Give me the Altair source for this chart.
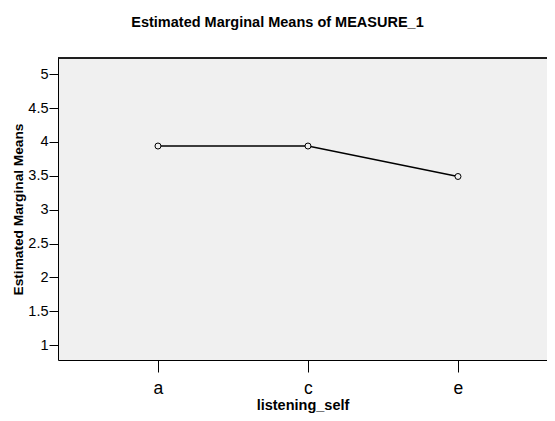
import altair as alt
import pandas as pd

categories = ["a", "c", "e"]
means = [3.94, 3.94, 3.49]

df = pd.DataFrame({"listening_self": categories, "mean": means})

FONT = "Liberation Sans"

x_enc = alt.X(
    "listening_self:N",
    sort=categories,
    scale=alt.Scale(type="point", padding=0.63, align=0.529),
    axis=alt.Axis(
        title="listening_self",
        titleFont=FONT, titleFontSize=14.5, titleFontWeight="bold", titleColor="black",
        titleBaseline="alphabetic", titleY=49.5,
        labelFont=FONT, labelFontSize=17.5, labelColor="black", labelPadding=7,
        labelAngle=0,
        tickSize=12, tickColor="black", tickWidth=1,
        domain=True, domainColor="black", domainWidth=1, grid=False,
    ),
)
y_enc = alt.Y(
    "mean:Q",
    scale=alt.Scale(domain=[0.78, 5.24], nice=False, zero=False),
    axis=alt.Axis(
        title="Estimated Marginal Means",
        titleFont=FONT, titleFontSize=13.7, titleFontWeight="bold", titleColor="black",
        titleX=-40, titleBaseline="middle",
        labelFont=FONT, labelFontSize=14.5, labelColor="black", labelPadding=1,
        values=[1, 1.5, 2, 2.5, 3, 3.5, 4, 4.5, 5],
        format="~g",
        tickSize=9, tickColor="black", tickWidth=1,
        domain=True, domainColor="black", domainWidth=1, grid=False,
    ),
)

# top edge of the plot frame (right edge runs off the page as in the reference)
top_frame = alt.Chart(df).mark_rule(color="black", strokeWidth=1).encode(y=alt.value(0))

line = alt.Chart(df).mark_line(color="black", strokeWidth=1.4).encode(x=x_enc, y=y_enc)
pts = alt.Chart(df).mark_point(
    shape="circle", size=36, filled=False, stroke="black", strokeWidth=1, fill="#f0f0f0", fillOpacity=1
).encode(x=x_enc, y=y_enc)

chart = (
    alt.layer(top_frame, line, pts)
    .properties(
        width=489,
        height=302,
        autosize=alt.AutoSizeParams(type="none"),
        padding={"left": 50, "top": 50, "right": 0, "bottom": 53},
        title=alt.TitleParams(
            "Estimated Marginal Means of MEASURE_1",
            font=FONT, fontSize=14.5, fontWeight="bold", color="black",
            anchor="middle", offset=27, dx=-25,
        ),
        background="white",
    )
    .configure_view(fill="#f0f0f0", stroke=None)
)

chart.save("out.html", embed_options={"renderer": "svg", "actions": False})
